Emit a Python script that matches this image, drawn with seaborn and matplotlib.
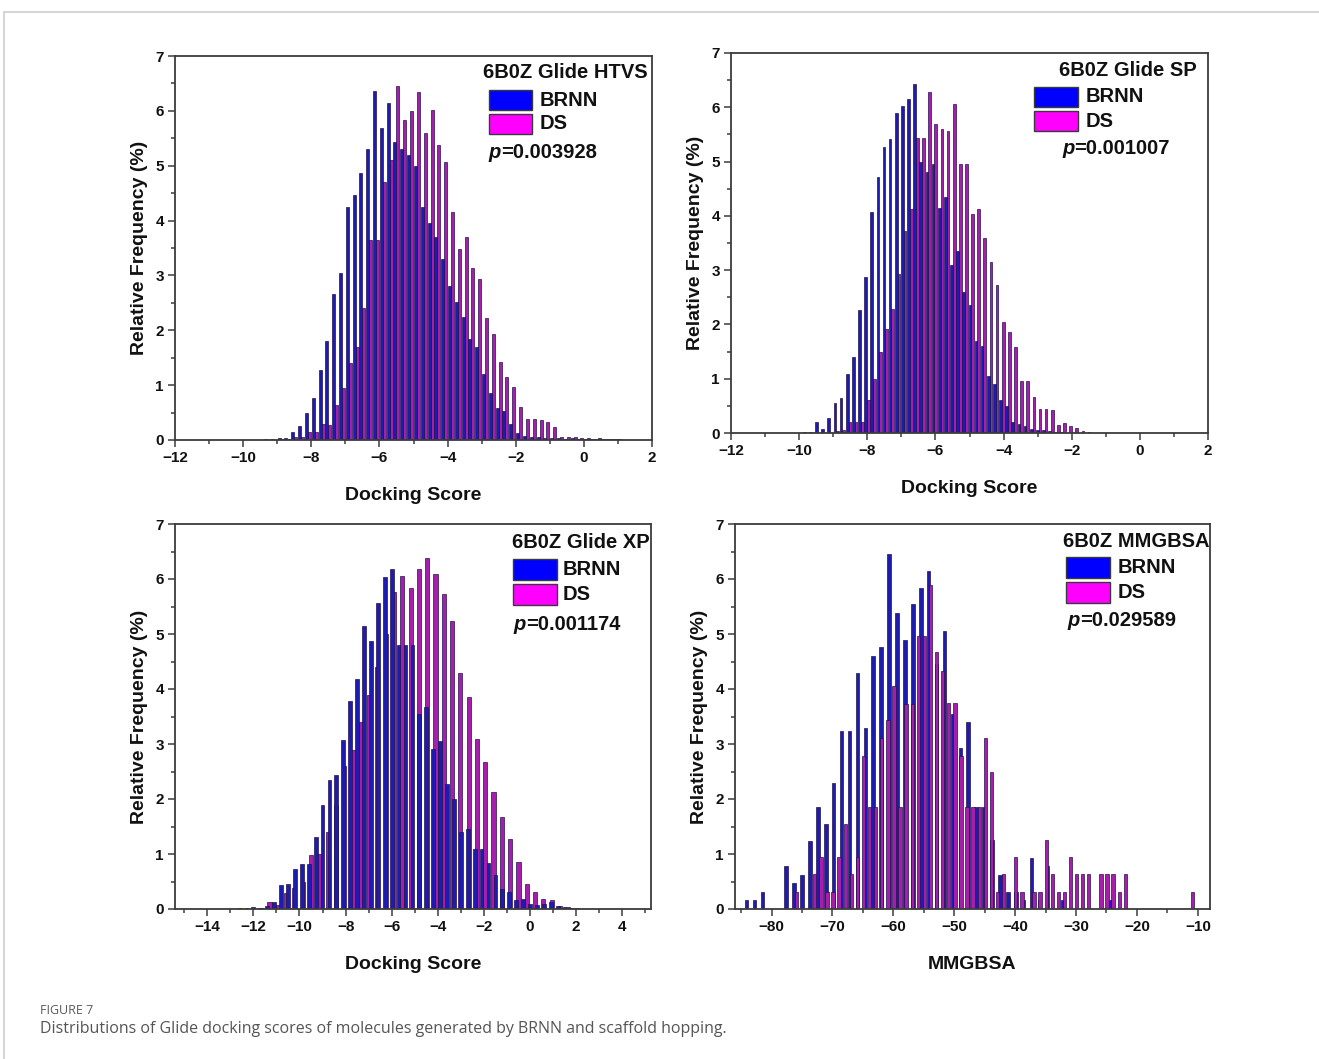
import numpy as np
import pandas as pd
import matplotlib
matplotlib.use("Agg")
import matplotlib.pyplot as plt
from matplotlib.patches import Rectangle
from matplotlib.lines import Line2D
from matplotlib.ticker import MultipleLocator
import seaborn as sns

# ---------------- data (relative frequency, %) ----------------
# Glide HTVS: shared 0.2-wide bins
htvs_bin_width = 0.2
htvs_brnn_first = -9.3
htvs_brnn = [0.01, 0.02, 0.03, 0.04, 0.15, 0.26, 0.50, 0.77, 1.27, 1.80,
             2.67, 3.05, 4.25, 4.46, 4.86, 5.30, 6.37, 5.68, 6.15, 5.43,
             5.30, 5.19, 5.00, 4.25, 3.95, 3.70, 3.30, 2.80, 2.52, 2.25,
             1.85, 1.70, 1.20, 0.85, 0.58, 0.52, 0.30, 0.12, 0.08, 0.06,
             0.05, 0.04, 0.03, 0.03, 0.02, 0.03, 0.02, 0.02, 0.02, 0.03,
             0.02, 0.01, 0.01]
htvs_ds_first = -8.9
htvs_ds = [0.01, 0.02, 0.06, 0.06, 0.15, 0.14, 0.30, 0.28, 0.64, 0.94,
           1.40, 1.70, 2.40, 3.65, 3.65, 4.70, 5.10, 6.45, 5.83, 5.99,
           6.34, 5.59, 6.01, 5.37, 5.07, 4.16, 3.49, 3.70, 3.13, 2.94,
           2.22, 1.94, 1.43, 1.14, 0.97, 0.61, 0.39, 0.39, 0.36, 0.33,
           0.23, 0.06, 0.05, 0.05, 0.04, 0.03, 0.02, 0.02, 0.01, 0.01]

# Glide SP: shared 0.18-wide bins
sp_bin_width = 0.18
sp_brnn_first = -9.81
sp_brnn = [0.02, 0.02, 0.20, 0.07, 0.27, 0.55, 0.65, 1.08, 1.40, 2.27,
           2.87, 4.07, 4.71, 5.27, 5.41, 5.90, 6.02, 6.16, 6.42, 5.00,
           4.80, 4.95, 4.15, 4.35, 3.10, 3.35, 2.60, 2.35, 1.70, 1.60,
           1.05, 0.90, 0.60, 0.50, 0.20, 0.17, 0.12, 0.08, 0.05, 0.05,
           0.03, 0.02, 0.02]
sp_ds_first = -8.91
sp_ds = [0.03, 0.05, 0.21, 0.21, 0.21, 0.60, 1.00, 1.50, 1.92, 2.29,
         2.93, 3.73, 4.13, 5.44, 5.44, 6.28, 5.70, 5.60, 5.57, 6.06,
         4.95, 4.95, 4.04, 4.13, 3.60, 3.15, 2.72, 2.05, 1.86, 1.59,
         0.95, 0.95, 0.67, 0.45, 0.45, 0.42, 0.15, 0.18, 0.12, 0.10,
         0.03, 0.02]

# Glide XP: each set binned on its own grid
xp_brnn_first, xp_brnn_width = -12.6, 0.3
xp_brnn = [0.02, 0.02, 0.03, 0.02, 0.05, 0.12, 0.44, 0.45, 0.73, 0.81,
           0.81, 1.31, 1.89, 2.34, 2.44, 3.07, 3.79, 4.18, 5.15, 4.88,
           5.56, 6.04, 6.18, 4.80, 4.80, 4.80, 3.55, 3.67, 2.90, 3.06,
           2.28, 2.00, 1.40, 1.45, 1.10, 1.10, 0.83, 0.62, 0.37, 0.31,
           0.16, 0.19, 0.10, 0.08, 0.10, 0.12, 0.05, 0.03, 0.02]
xp_ds_first, xp_ds_width = -11.66, 0.36
xp_ds = [0.02, 0.13, 0.08, 0.30, 0.38, 0.50, 0.98, 1.00, 1.40, 1.90,
         2.60, 2.90, 3.40, 3.90, 4.40, 5.00, 5.76, 6.05, 5.83, 6.19,
         6.39, 6.09, 5.73, 5.24, 4.30, 3.85, 3.10, 2.67, 2.13, 1.67,
         1.28, 0.86, 0.45, 0.31, 0.19, 0.16, 0.06, 0.03, 0.02]

# MMGBSA: each set binned on its own grid
mm_brnn_first, mm_brnn_width = -84.1, 1.3
mm_brnn = [0.16, 0.16, 0.31, 0.00, 0.00, 0.78, 0.47, 0.62, 1.24, 1.86,
           1.55, 2.30, 3.23, 3.23, 4.30, 3.30, 4.60, 4.77, 6.45, 5.39,
           4.90, 5.54, 5.84, 6.14, 4.46, 5.05, 3.54, 2.92, 3.40, 1.86,
           1.86, 1.25, 0.62, 0.31, 0.31, 0.16, 0.93, 0.16, 0.78, 0.00,
           0.16, 0.00, 0.00, 0.00, 0.00, 0.00, 0.16]
mm_ds_first, mm_ds_width = -75.9, 1.0
mm_ds = [0.31, 0.00, 0.00, 0.63, 0.95, 0.31, 0.31, 0.95, 1.55, 0.63,
         0.95, 2.79, 1.86, 1.86, 3.10, 3.43, 4.06, 1.86, 3.73, 3.73,
         4.97, 4.97, 5.90, 4.67, 4.32, 3.74, 3.74, 2.79, 1.86, 1.86,
         1.86, 3.11, 2.49, 0.31, 0.63, 0.00, 0.95, 0.31, 0.00, 0.31,
         0.31, 1.25, 0.63, 0.31, 0.31, 0.95, 0.63, 0.63, 0.63, 0.00,
         0.63, 0.63, 0.63, 0.31, 0.63, 0.00, 0.00, 0.00, 0.00, 0.00,
         0.00, 0.00, 0.00, 0.00, 0.00, 0.31]

panel_titles = ["6B0Z Glide HTVS", "6B0Z Glide SP", "6B0Z Glide XP", "6B0Z MMGBSA"]
p_values = ["=0.003928", "=0.001007", "=0.001174", "=0.029589"]
x_labels = ["Docking Score", "Docking Score", "Docking Score", "MMGBSA"]
set_names = ["BRNN", "DS"]

# ---------------- style ----------------
sns.set_theme(style="white")
plt.rcParams["font.family"] = ["Liberation Sans", "DejaVu Sans"]

BAR_COLORS = {"BRNN": "#1c1cb0", "DS": "#a81eac"}   # narrow bars with dark outlines
KEY_COLORS = {"BRNN": "#0000ff", "DS": "#ff00ff"}
BAR_EDGE = "#22124e"
KEY_EDGE = "#3a3a3a"
SPINE = "#3c3c3c"
TEXT = "#111111"

W, H = 1319, 1059
fig = plt.figure(figsize=(W / 100, H / 100), dpi=100)


def px_axes(left, top, right, bottom):
    return fig.add_axes([left / W, 1 - bottom / H, (right - left) / W, (bottom - top) / H])


def series_frame(first, width, values, name):
    centers = first + width * np.arange(len(values))
    return pd.DataFrame({"score": centers, "freq": values, "set": name})


def draw_dodged(ax, width, brnn_first, brnn, ds_first, ds):
    df = pd.concat([series_frame(brnn_first, width, brnn, "BRNN"),
                    series_frame(ds_first, width, ds, "DS")], ignore_index=True)
    lo = df["score"].min() - width / 2
    n = int(round((df["score"].max() - df["score"].min()) / width)) + 1
    edges = (lo + width * np.arange(n + 1)).tolist()
    sns.histplot(data=df, x="score", weights="freq", hue="set", hue_order=set_names,
                 bins=edges, multiple="dodge", shrink=0.88, palette=BAR_COLORS,
                 edgecolor=BAR_EDGE, linewidth=0.5, alpha=1, legend=False, ax=ax)


def draw_layered(ax, first, width, values, name, shrink):
    df = series_frame(first, width, values, name)
    edges = (first - width / 2 + width * np.arange(len(values) + 1)).tolist()
    sns.histplot(data=df, x="score", weights="freq", bins=edges, shrink=shrink,
                 color=BAR_COLORS[name], edgecolor=BAR_EDGE, linewidth=0.5,
                 alpha=1, ax=ax)


def style_axes(ax, xlim, major, minor, xlabel):
    ax.set_xlim(*xlim)
    ax.set_ylim(0, 7)
    ax.xaxis.set_major_locator(MultipleLocator(major))
    ax.xaxis.set_minor_locator(MultipleLocator(minor))
    ax.yaxis.set_major_locator(MultipleLocator(1))
    ax.yaxis.set_minor_locator(MultipleLocator(0.5))
    ax.tick_params(which="both", direction="out", bottom=True, left=True,
                   top=False, right=False, color=SPINE, width=1.1)
    ax.tick_params(which="major", length=5, labelsize=11, pad=3, labelcolor=TEXT)
    ax.tick_params(which="minor", length=3)
    for lab in ax.get_xticklabels() + ax.get_yticklabels():
        lab.set_fontweight("bold")
    for s in ax.spines.values():
        s.set_color(SPINE)
        s.set_linewidth(1.3)
        s.set_visible(True)
    ax.set_xlabel(xlabel, fontsize=14, fontweight="bold", labelpad=16, color=TEXT)
    ax.set_ylabel("Relative Frequency (%)", fontsize=14, fontweight="bold", labelpad=5,
                  color=TEXT)
    ax.grid(False)


def add_key(ax, title, pval, title_xy, patch_x, patch_tops, text_x, p_xy, patch_wh):
    fs = 14.5
    ax.text(title_xy[0], title_xy[1], title, transform=ax.transAxes, ha="right",
            va="center", fontsize=fs, fontweight="bold", color=TEXT)
    for name, top in zip(set_names, patch_tops):
        ax.add_patch(Rectangle((patch_x, top - patch_wh[1]), patch_wh[0], patch_wh[1],
                               transform=ax.transAxes, facecolor=KEY_COLORS[name],
                               edgecolor=KEY_EDGE, linewidth=1.0, zorder=5))
        ax.text(text_x, top - patch_wh[1] / 2, name, transform=ax.transAxes,
                ha="left", va="center", fontsize=fs, fontweight="bold", color=TEXT)
    p = ax.text(p_xy[0], p_xy[1], "p", transform=ax.transAxes, ha="left", va="center",
                fontsize=fs, fontweight="bold", style="italic", color=TEXT)
    ax.annotate(pval, xy=(1, 0), xycoords=p, ha="left", va="bottom",
                fontsize=fs, fontweight="bold", color=TEXT)


# ---------------- panels ----------------
ax1 = px_axes(175, 56, 652, 440)
draw_dodged(ax1, htvs_bin_width, htvs_brnn_first, htvs_brnn, htvs_ds_first, htvs_ds)
style_axes(ax1, (-12, 2), 2, 1, x_labels[0])
add_key(ax1, panel_titles[0], p_values[0], (0.99, 0.958), 0.658, (0.911, 0.849),
        0.765, (0.658, 0.75), (0.09, 0.052))

ax2 = px_axes(731, 53, 1208, 433)
draw_dodged(ax2, sp_bin_width, sp_brnn_first, sp_brnn, sp_ds_first, sp_ds)
style_axes(ax2, (-12, 2), 2, 1, x_labels[1])
add_key(ax2, panel_titles[1], p_values[1], (0.976, 0.955), 0.635, (0.911, 0.847),
        0.744, (0.694, 0.75), (0.092, 0.053))

ax3 = px_axes(175, 524, 651, 909)
draw_layered(ax3, xp_ds_first, xp_ds_width, xp_ds, "DS", 0.5)
draw_layered(ax3, xp_brnn_first, xp_brnn_width, xp_brnn, "BRNN", 0.55)
style_axes(ax3, (-15.4, 5.25), 2, 1, x_labels[2])
add_key(ax3, panel_titles[2], p_values[2], (0.998, 0.953), 0.71, (0.909, 0.844),
        0.815, (0.712, 0.74), (0.092, 0.054))

ax4 = px_axes(735, 524, 1210, 909)
draw_layered(ax4, mm_brnn_first, mm_brnn_width, mm_brnn, "BRNN", 0.45)
draw_layered(ax4, mm_ds_first, mm_ds_width, mm_ds, "DS", 0.55)
style_axes(ax4, (-86, -8), 10, 5, x_labels[3])
add_key(ax4, panel_titles[3], p_values[3], (0.998, 0.955), 0.697, (0.914, 0.849),
        0.806, (0.70, 0.75), (0.093, 0.054))

# ---------------- page frame and caption ----------------
fig.add_artist(Line2D([4 / W, 1], [1 - 12 / H, 1 - 12 / H], transform=fig.transFigure,
                      color="#d6d6d6", linewidth=1.5))
fig.add_artist(Line2D([4 / W, 4 / W], [0, 1 - 12 / H], transform=fig.transFigure,
                      color="#d6d6d6", linewidth=1.5))
fig.text(40 / W, 1 - 1010 / H, "FIGURE 7", ha="left", va="center", fontsize=9,
         color="#5a5a5a", family=["Open Sans", "DejaVu Sans"])
fig.text(40 / W, 1 - 1029 / H,
         "Distributions of Glide docking scores of molecules generated by BRNN and scaffold hopping.",
         ha="left", va="center", fontsize=11.5, color="#555555",
         family=["Open Sans", "DejaVu Sans"])

fig.savefig("out.png", dpi=100, facecolor="white")
